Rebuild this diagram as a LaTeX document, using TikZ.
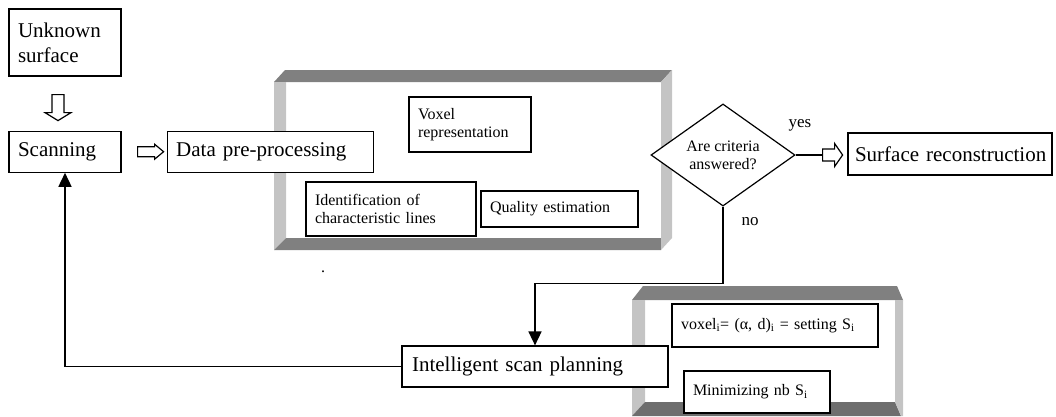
\documentclass[tikz,border=0pt]{standalone}
\usepackage{fontspec}
\setmainfont{Liberation Serif}
\usetikzlibrary{positioning,arrows.meta,shapes.geometric}

\newcommand{\bigtxt}{\fontsize{21}{25}\selectfont}
\newcommand{\smalltxt}{\fontsize{16}{18}\selectfont}
\colorlet{benddark}{black!50}
\colorlet{benddeep}{black!57}
\colorlet{bendlight}{black!23}

\begin{document}
\begin{tikzpicture}
    [x=1pt,y=1pt,
     box/.style={rectangle,draw,line width=1.2pt,fill=white,align=left,inner xsep=9pt,inner ysep=0pt},
     bigbox/.style={box,font=\bigtxt},
     smallbox/.style={box,font=\smalltxt},
     query/.style={diamond,draw,line width=1.2pt,fill=white,align=center,inner sep=0pt,
                   font=\smalltxt,minimum width=144pt,minimum height=71pt},
     flow/.style={line width=1.6pt,-{Triangle[length=14pt,width=13pt]}},
     hollow/.style={draw,fill=white,line width=1.2pt,line join=miter},
     tag/.style={font=\fontsize{17}{18}\selectfont}]

    \useasboundingbox (0,0) rectangle (1056,-416);

    % bevelled frame round the pre-processing steps
    \fill[benddark] (285,-70) -- (672,-70) -- (661,-82) -- (274,-82) -- cycle;
    \fill[bendlight] (274,-82) -- (286,-82) -- (286,-238) -- (274,-250) -- cycle;
    \fill[benddark] (286,-238) -- (661,-238) -- (661,-250) -- (274,-250) -- cycle;
    \fill[bendlight] (661,-82) -- (672,-70) -- (672,-238) -- (661,-250) -- cycle;

    % bevelled frame round the planning steps
    \fill[benddark] (643,-286) -- (897,-286) -- (903,-300) -- (632,-300) -- cycle;
    \fill[bendlight] (632,-300) -- (645,-300) -- (645,-402) -- (632,-416) -- cycle;
    \fill[benddeep] (645,-402) -- (895,-402) -- (901,-416) -- (632,-416) -- cycle;
    \fill[bendlight] (895,-300) -- (903,-300) -- (903,-416) -- (901,-416) -- (895,-402) -- cycle;

    \node[bigbox,text width=94pt,minimum height=67pt] (unknown) at (65,-42.5) {Unknown\\surface};
    \node[bigbox,text width=94pt,minimum height=41pt] (scan) [below=54pt of unknown] {Scanning};
    \node[bigbox,text width=188pt,minimum height=41pt] (prep) [right=45pt of scan] {Data pre-processing};

    \node[smallbox,text width=104pt,minimum height=55pt] (voxel) at (470,-124.5) {Voxel\\representation};
    \node[smallbox,text width=152pt,minimum height=54pt] (ident) at (391,-209) {Identification of\\characteristic lines};
    \node[smallbox,text width=139pt,minimum height=36pt] (quality) at (559.5,-209) {Quality estimation};
    \node[font=\smalltxt,inner sep=0pt] (dot) at (323,-272) {.};

    \node[query] (criteria) at (723,-155) {Are criteria\\answered?};
    \node[bigbox,text width=190pt,minimum height=42pt,inner xsep=7pt] (surface) at (950,-154)
      {\mbox{Surface reconstruction}};
    \node[tag] (yes) at (800,-125) {yes};
    \node[tag] (no) at (750,-222) {no};

    \node[bigbox,text width=246pt,minimum height=41pt,inner xsep=10pt] (plan) at (535,-366.5) {Intelligent scan planning};
    \node[smallbox,text width=188pt,minimum height=43pt] (setting) at (775,-325.5)
      {voxel\textsubscript{i}= (α, d)\textsubscript{i} = setting S\textsubscript{i}};
    \node[smallbox,text width=128pt,minimum height=42pt] (minim) at (757,-392) {Minimizing nb S\textsubscript{i}};

    % hollow block arrows
    \draw[hollow,shift={([xshift=-7pt,yshift=-18pt]unknown.south)}]
      (-6,0) -- (6,0) -- (6,-18) -- (13,-18) -- (0,-26) -- (-13,-18) -- (-6,-18) -- cycle;
    \draw[hollow,shift={([xshift=16pt]scan.east)}]
      (0,5) -- (17,5) -- (17,7.5) -- (26,0) -- (17,-7.5) -- (17,-5) -- (0,-5) -- cycle;
    \draw[line width=1.6pt] (criteria.east) -- ++(27,0) coordinate (yesend);
    \draw[hollow,shift={(yesend)}]
      (0,6) -- (12,6) -- (12,11.5) -- (20,0) -- (12,-11.5) -- (12,-6) -- (0,-6) -- cycle;

    % loop back
    \draw[flow] (criteria.south) -- ++(0,-77) -| (plan);
    \draw[flow] (plan.west) -| (scan);
\end{tikzpicture}
\end{document}
